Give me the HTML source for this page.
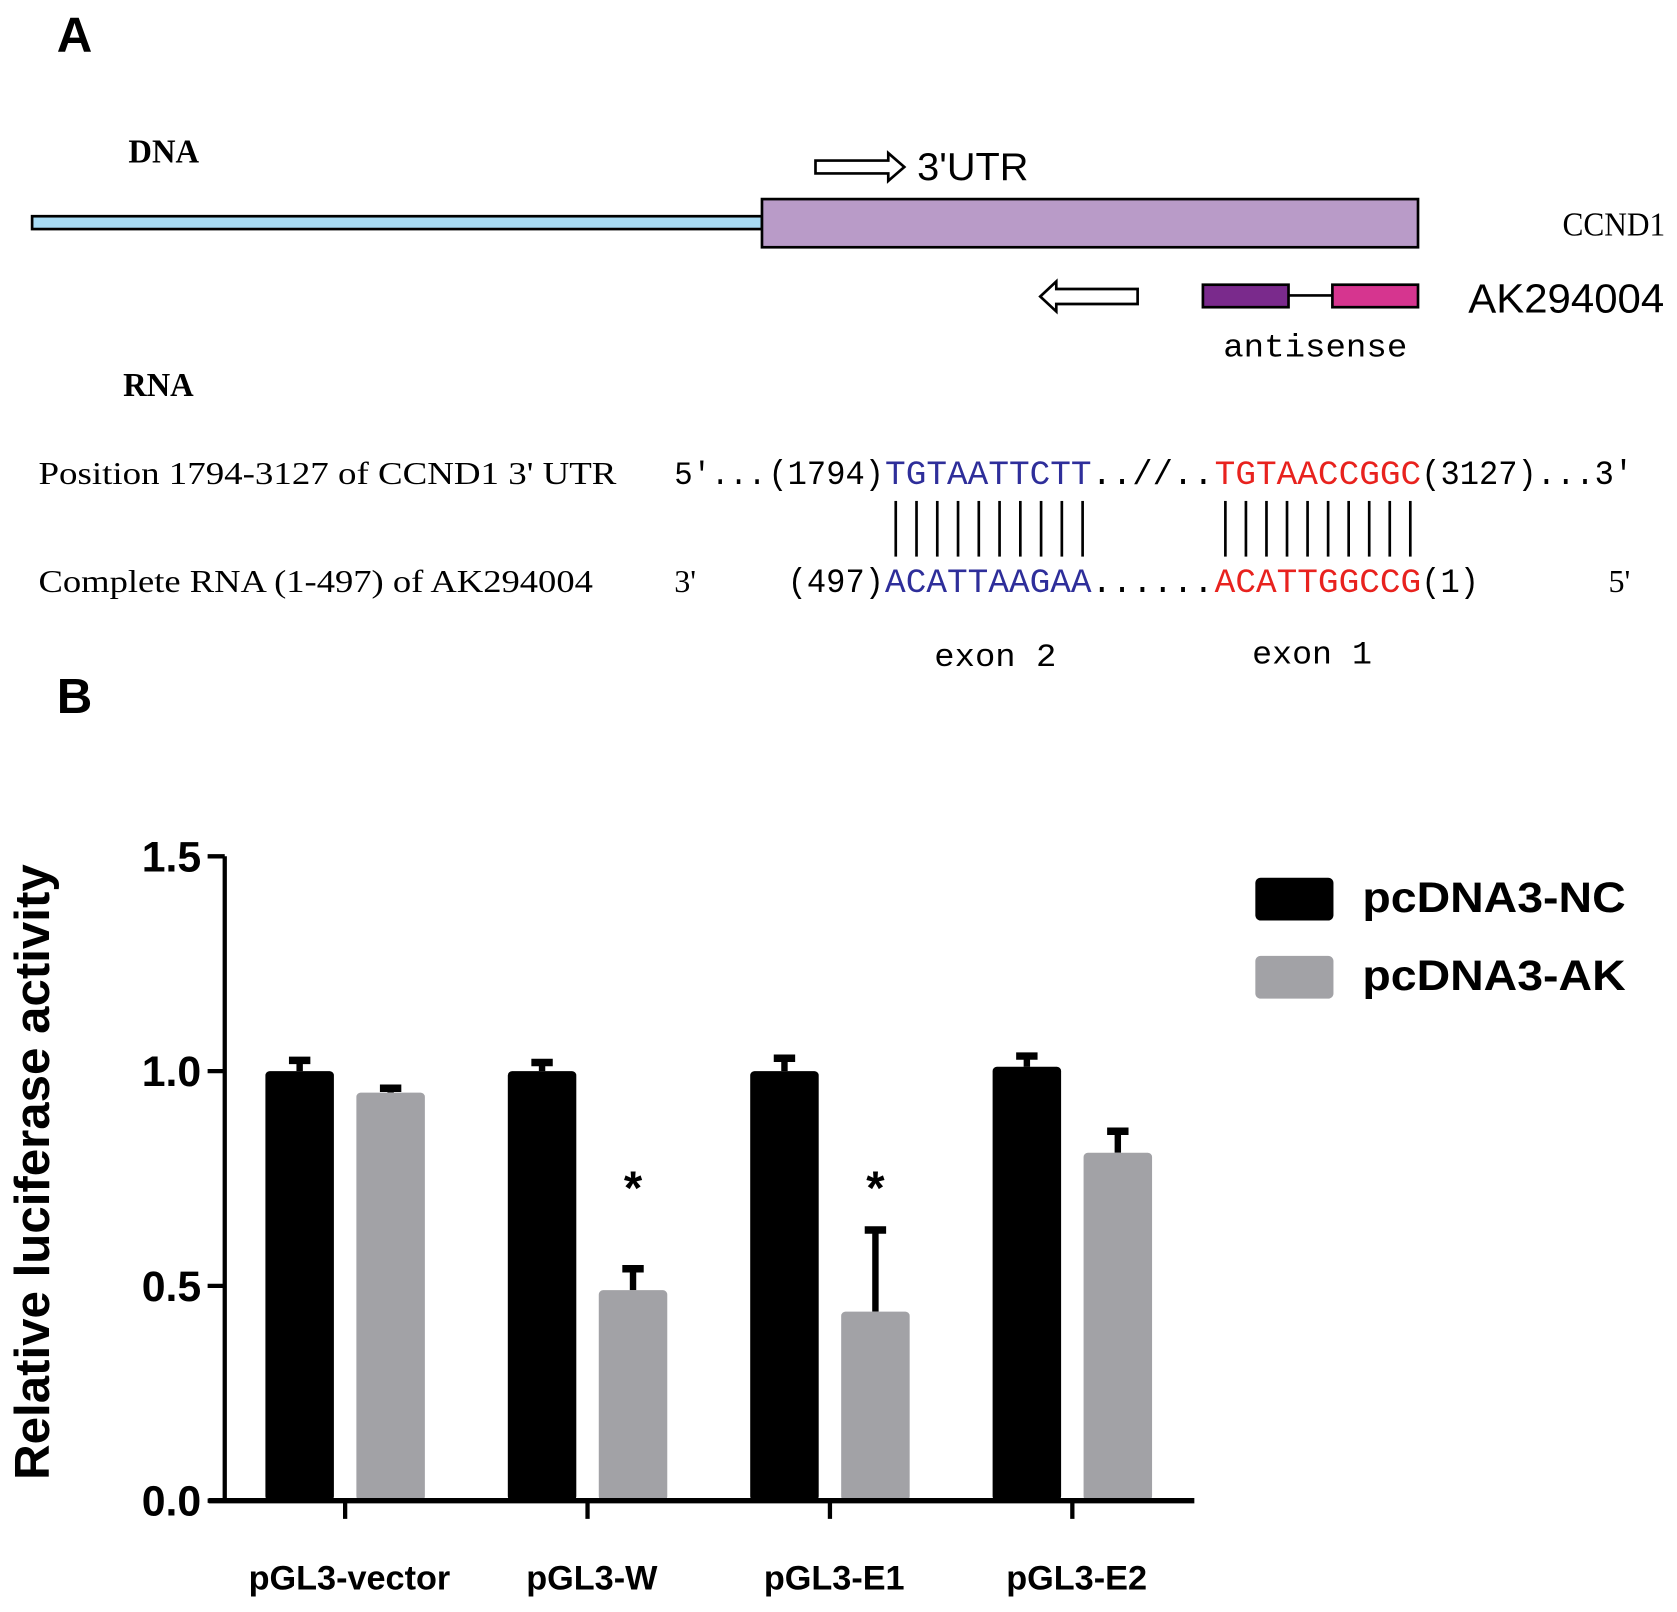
<!DOCTYPE html>
<html><head><meta charset="utf-8"><style>
html,body{margin:0;padding:0;background:#fff;width:1677px;height:1612px;overflow:hidden}
svg{display:block}
.serif{font-family:"Liberation Serif",serif}
.mono{font-family:"Liberation Mono",monospace}
.sans{font-family:"Liberation Sans",sans-serif}
</style></head><body>
<svg id="fig" width="1677" height="1612" viewBox="0 0 1567 1506" preserveAspectRatio="none" xmlns="http://www.w3.org/2000/svg">
<rect width="1567" height="1506" fill="#fff"/>
<g>
<text class="sans" x="53" y="48" font-size="46" font-weight="bold">A</text>
<text class="serif" x="120" y="152" font-size="32" font-weight="bold" textLength="66" lengthAdjust="spacingAndGlyphs">DNA</text>
<path d="M762,150 H830 V143 L845,156 L830,169 V162 H762 Z" fill="#fff" stroke="#000" stroke-width="2.5"/>
<text class="sans" x="857" y="168" font-size="36" textLength="104" lengthAdjust="spacingAndGlyphs">3'UTR</text>
<rect x="30" y="202" width="682" height="12" fill="#a8dcf5" stroke="#000" stroke-width="2.5"/>
<rect x="712" y="186" width="613" height="45" fill="#b99bc8" stroke="#000" stroke-width="2.5"/>
<text class="serif" x="1460" y="220" font-size="32" textLength="96" lengthAdjust="spacingAndGlyphs">CCND1</text>
<path d="M1063,270 H987 V263 L972,277 L987,291 V284 H1063 Z" fill="#fff" stroke="#000" stroke-width="2.5"/>
<rect x="1124" y="266" width="80" height="21" fill="#7a2a8c" stroke="#000" stroke-width="2.5"/>
<line x1="1204" y1="276" x2="1245" y2="276" stroke="#000" stroke-width="2.5"/>
<rect x="1245" y="266" width="80" height="21" fill="#d6358f" stroke="#000" stroke-width="2.5"/>
<text class="sans" x="1372" y="292" font-size="38" textLength="183" lengthAdjust="spacingAndGlyphs">AK294004</text>
<text class="mono" x="1143" y="333" font-size="30" textLength="172" lengthAdjust="spacingAndGlyphs">antisense</text>
<text class="serif" x="115" y="370" font-size="32" font-weight="bold" textLength="66" lengthAdjust="spacingAndGlyphs">RNA</text>
<text class="serif" x="36" y="452" font-size="30" textLength="540" lengthAdjust="spacingAndGlyphs">Position 1794-3127 of CCND1  3' UTR</text>
<text class="serif" x="36" y="553" font-size="30" textLength="518" lengthAdjust="spacingAndGlyphs">Complete RNA (1-497) of  AK294004</text>
<text class="mono" x="630" y="452" font-size="30" textLength="86" lengthAdjust="spacingAndGlyphs">5'...</text>
<text class="mono" x="718" y="452" font-size="32" textLength="108" lengthAdjust="spacingAndGlyphs">(1794)</text>
<text class="mono" x="827" y="452" font-size="32" fill="#2e2e9a" textLength="193" lengthAdjust="spacingAndGlyphs">TGTAATTCTT</text>
<text class="mono" x="1020" y="452" font-size="32" textLength="114" lengthAdjust="spacingAndGlyphs">..//..</text>
<text class="mono" x="1135" y="452" font-size="32" fill="#e8221e" textLength="193" lengthAdjust="spacingAndGlyphs">TGTAACCGGC</text>
<text class="mono" x="1328" y="452" font-size="32" textLength="198" lengthAdjust="spacingAndGlyphs">(3127)...3'</text>
<text class="serif" x="630" y="553" font-size="30">3'</text>
<text class="mono" x="736" y="553" font-size="32" textLength="90" lengthAdjust="spacingAndGlyphs">(497)</text>
<text class="mono" x="827" y="553" font-size="32" fill="#2e2e9a" textLength="193" lengthAdjust="spacingAndGlyphs">ACATTAAGAA</text>
<text class="mono" x="1020" y="553" font-size="32" textLength="114" lengthAdjust="spacingAndGlyphs">......</text>
<text class="mono" x="1135" y="553" font-size="32" fill="#e8221e" textLength="193" lengthAdjust="spacingAndGlyphs">ACATTGGCCG</text>
<text class="mono" x="1328" y="553" font-size="32" textLength="54" lengthAdjust="spacingAndGlyphs">(1)</text>
<text class="serif" x="1503" y="553" font-size="30">5'</text>
<g id="pairs" stroke="#000" stroke-width="2.5"></g>
<text class="mono" x="873" y="622" font-size="30" textLength="114" lengthAdjust="spacingAndGlyphs">exon 2</text>
<text class="mono" x="1170" y="620" font-size="30" textLength="112" lengthAdjust="spacingAndGlyphs">exon 1</text>
</g>
<g>
<text class="sans" x="53" y="666" font-size="46" font-weight="bold">B</text>
<g id="chart"></g>
</g>
</svg>
<script>
const categories = ["pGL3-vector","pGL3-W","pGL3-E1","pGL3-E2"];
const ncValues = [1.0, 1.0, 1.0, 1.01];
const ncErrors = [0.025, 0.02, 0.03, 0.025];
const akValues = [0.95, 0.49, 0.44, 0.81];
const akErrors = [0.01, 0.05, 0.19, 0.05];
const significant = [false, true, true, false];
const yTicks = [0.0, 0.5, 1.0, 1.5];
const yTickLabels = ["0.0","0.5","1.0","1.5"];
const seriesNames = ["pcDNA3-NC","pcDNA3-AK"];

const NS="http://www.w3.org/2000/svg";
function mk(tag, attrs, parent){const e=document.createElementNS(NS,tag);for(const k in attrs)e.setAttribute(k,attrs[k]);parent.appendChild(e);return e;}

const pairs=document.getElementById('pairs');
for(let i=0;i<10;i++){
  const x1=837+i*19.4;
  const l1=mk('line',{x1:x1,y1:468,x2:x1,y2:520},pairs);
  
  
  const x2=1145+i*19.2;
  const l2=mk('line',{x1:x2,y1:468,x2:x2,y2:520},pairs);
  
  
}

const chart=document.getElementById('chart');
const y0=1402, yTop=800, vMax=1.5;
function yScale(v){return y0-(y0-yTop)*v/vMax;}
const groupStart=248, groupStep=226.5, barW=64, gap=21;
function xNC(i){return groupStart+i*groupStep;}
function xAK(i){return groupStart+i*groupStep+barW+gap;}

const ya=mk('line',{x1:210,y1:yTop,x2:210,y2:y0,stroke:'#000','stroke-width':4},chart);


yTicks.forEach((t,i)=>{
  const y=yScale(t);
  const tk=mk('line',{x1:194,y1:y,x2:210,y2:y,stroke:'#000','stroke-width':4},chart);
  
  
  const tl=mk('text',{x:188,y:y+14,'text-anchor':'end','font-size':40,'font-weight':'bold','font-family':'Liberation Sans, sans-serif'},chart);
  tl.textContent=yTickLabels[i];
  
  
});
const yt=mk('text',{x:0,y:0,'text-anchor':'middle','font-size':46,'font-weight':'bold','font-family':'Liberation Sans, sans-serif',transform:'translate(46,1095) rotate(-90)'},chart);
yt.textContent='Relative luciferase activity';



function drawBar(x,v,err,fill,name){
  const top=yScale(v), et=yScale(v+err);
  const e=mk('line',{x1:x+barW/2,y1:et,x2:x+barW/2,y2:top,stroke:'#000','stroke-width':6},chart);
  
  
  const c=mk('line',{x1:x+barW/2-10,y1:et,x2:x+barW/2+10,y2:et,stroke:'#000','stroke-width':7},chart);
  
  
  const r=mk('rect',{x:x,y:top,width:barW,height:y0-top,fill:fill,rx:4},chart);
  
  
}
categories.forEach((c,i)=>{
  drawBar(xNC(i),ncValues[i],ncErrors[i],'#000','bar-nc-'+i);
  drawBar(xAK(i),akValues[i],akErrors[i],'#a2a2a6','bar-ak-'+i);
  const cx=(xNC(i)+xAK(i)+barW)/2;
  const tk=mk('line',{x1:cx,y1:y0,x2:cx,y2:1419,stroke:'#000','stroke-width':4},chart);
  
  
  const tl=mk('text',{x:cx+4,y:1485,'text-anchor':'middle','font-size':32,'font-weight':'bold','font-family':'Liberation Sans, sans-serif'},chart);
  tl.textContent=c;
  
  
  if(significant[i]){
    const s=mk('text',{x:xAK(i)+barW/2,y:1125,'text-anchor':'middle','font-size':44,'font-weight':'bold','font-family':'Liberation Sans, sans-serif'},chart);
    s.textContent='*';
    
    
  }
});
const xa=mk('line',{x1:195,y1:y0,x2:1116,y2:y0,stroke:'#000','stroke-width':5},chart);



const legFill=['#000','#a2a2a6'];
seriesNames.forEach((n,i)=>{
  const y=820+i*73;
  const r=mk('rect',{x:1173,y:y,width:73,height:40,rx:5,fill:legFill[i]},chart);
  
  
  const t=mk('text',{x:1273,y:y+32,'font-size':40,'font-weight':'bold','font-family':'Liberation Sans, sans-serif',textLength:246,lengthAdjust:'spacingAndGlyphs'},chart);
  t.textContent=n;
  
  
});
</script>
</body></html>
